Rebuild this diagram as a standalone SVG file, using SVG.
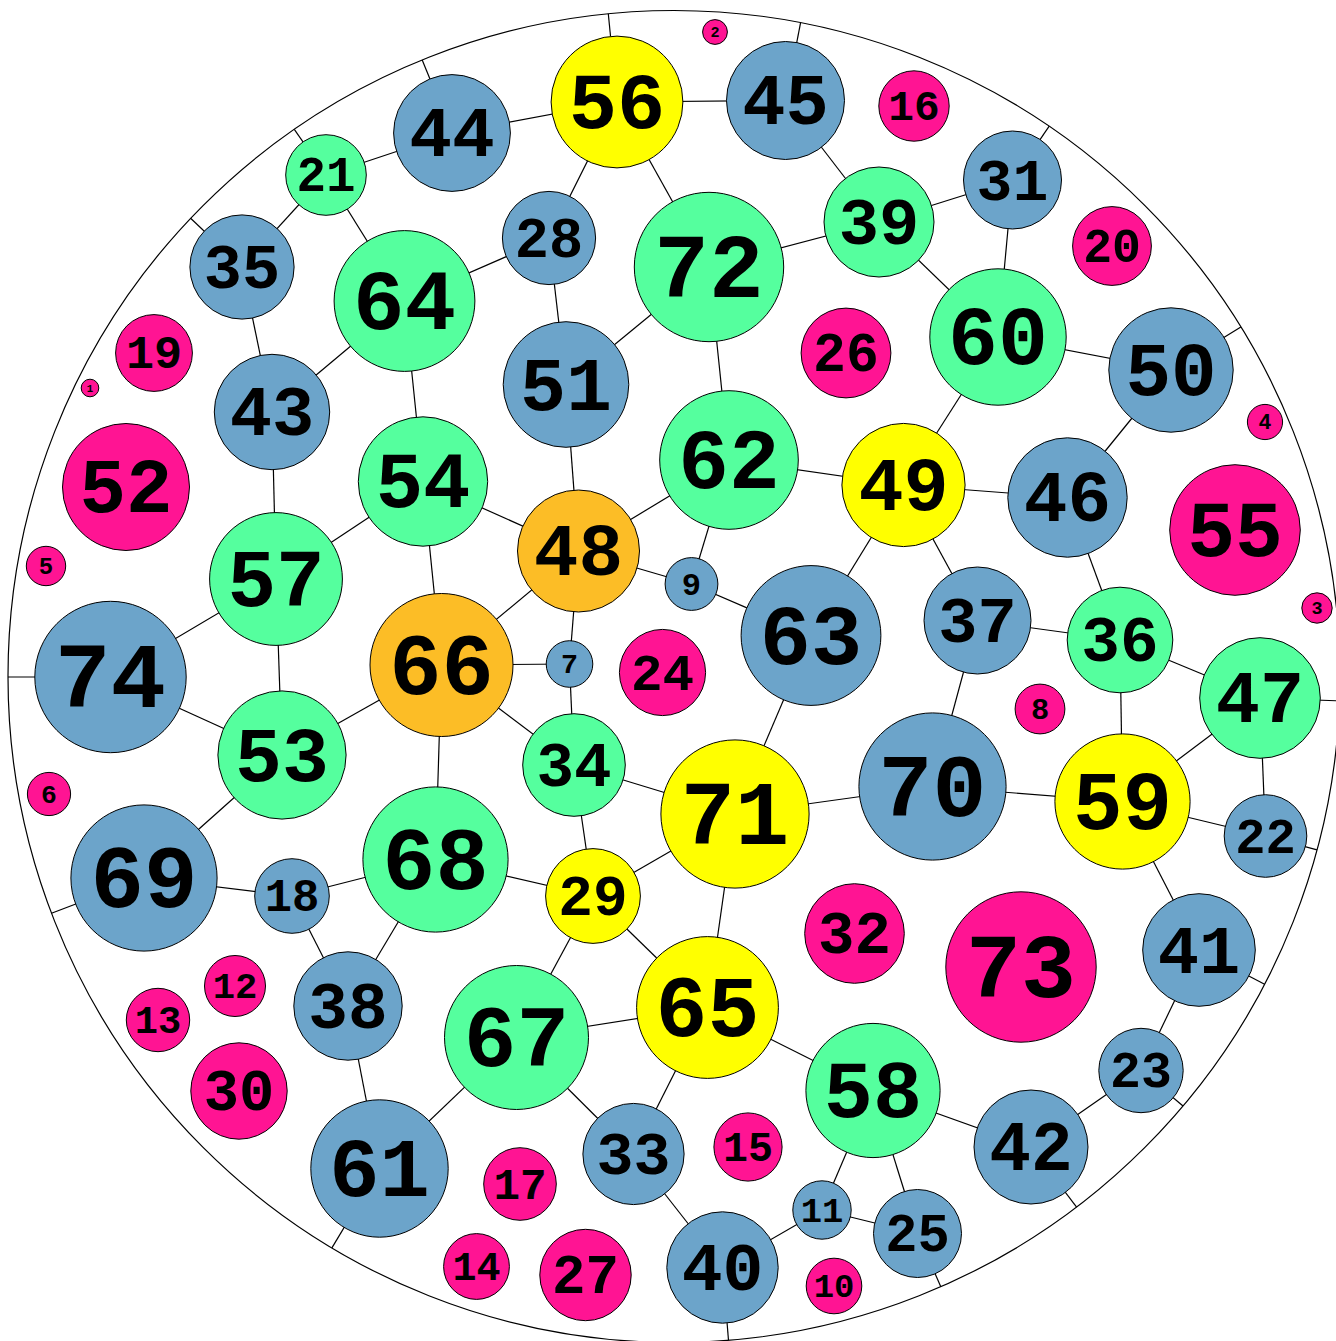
<svg xmlns="http://www.w3.org/2000/svg" width="1336" height="1341" viewBox="0 0 1336 1341">
<style>
.bg{fill:#ffffff}
.rim{fill:none;stroke:#000;stroke-width:1.2}
.e line{stroke:#000;stroke-width:1.2}
circle.n{stroke:#000;stroke-width:1}
.b{fill:#6ca4ca}.g{fill:#55ff9e}.y{fill:#ffff00}.p{fill:#ff1493}.o{fill:#fcbd26}
text{font-family:"Liberation Mono","Courier New",monospace;font-weight:bold;text-anchor:middle;fill:#000}
</style>
<rect class="bg" x="0" y="0" width="1336" height="1341"/>
<circle class="rim" cx="674" cy="676.5" r="666"/>
<g id="connectors" class="e">
<line x1="617" y1="102" x2="785.5" y2="100.5"/>
<line x1="617" y1="102" x2="452" y2="133"/>
<line x1="617" y1="102" x2="549" y2="238"/>
<line x1="617" y1="102" x2="709" y2="267"/>
<line x1="785.5" y1="100.5" x2="879" y2="222"/>
<line x1="452" y1="133" x2="326" y2="175"/>
<line x1="326" y1="175" x2="242" y2="267"/>
<line x1="326" y1="175" x2="404.5" y2="301"/>
<line x1="549" y1="238" x2="404.5" y2="301"/>
<line x1="549" y1="238" x2="566" y2="384.5"/>
<line x1="709" y1="267" x2="566" y2="384.5"/>
<line x1="709" y1="267" x2="879" y2="222"/>
<line x1="709" y1="267" x2="729" y2="460"/>
<line x1="879" y1="222" x2="1012.5" y2="180"/>
<line x1="879" y1="222" x2="998" y2="337"/>
<line x1="1012.5" y1="180" x2="998" y2="337"/>
<line x1="998" y1="337" x2="1171" y2="370"/>
<line x1="998" y1="337" x2="903.5" y2="485"/>
<line x1="1171" y1="370" x2="1067.5" y2="497.5"/>
<line x1="242" y1="267" x2="272" y2="412"/>
<line x1="404.5" y1="301" x2="272" y2="412"/>
<line x1="404.5" y1="301" x2="423" y2="481.5"/>
<line x1="272" y1="412" x2="276" y2="579"/>
<line x1="566" y1="384.5" x2="578.5" y2="551"/>
<line x1="423" y1="481.5" x2="578.5" y2="551"/>
<line x1="423" y1="481.5" x2="276" y2="579"/>
<line x1="423" y1="481.5" x2="441.5" y2="665"/>
<line x1="729" y1="460" x2="578.5" y2="551"/>
<line x1="729" y1="460" x2="903.5" y2="485"/>
<line x1="729" y1="460" x2="691.5" y2="584"/>
<line x1="903.5" y1="485" x2="1067.5" y2="497.5"/>
<line x1="903.5" y1="485" x2="811" y2="635.5"/>
<line x1="903.5" y1="485" x2="977.5" y2="620.5"/>
<line x1="1067.5" y1="497.5" x2="1120" y2="640"/>
<line x1="578.5" y1="551" x2="691.5" y2="584"/>
<line x1="578.5" y1="551" x2="441.5" y2="665"/>
<line x1="578.5" y1="551" x2="569.5" y2="664"/>
<line x1="691.5" y1="584" x2="811" y2="635.5"/>
<line x1="276" y1="579" x2="110.5" y2="677"/>
<line x1="276" y1="579" x2="282" y2="755"/>
<line x1="441.5" y1="665" x2="282" y2="755"/>
<line x1="441.5" y1="665" x2="569.5" y2="664"/>
<line x1="441.5" y1="665" x2="574" y2="765"/>
<line x1="441.5" y1="665" x2="435.5" y2="859.5"/>
<line x1="569.5" y1="664" x2="574" y2="765"/>
<line x1="811" y1="635.5" x2="735" y2="814"/>
<line x1="977.5" y1="620.5" x2="1120" y2="640"/>
<line x1="977.5" y1="620.5" x2="932.5" y2="786.5"/>
<line x1="1120" y1="640" x2="1260" y2="698"/>
<line x1="1120" y1="640" x2="1122.5" y2="801.5"/>
<line x1="1260" y1="698" x2="1122.5" y2="801.5"/>
<line x1="1260" y1="698" x2="1265.5" y2="836"/>
<line x1="574" y1="765" x2="735" y2="814"/>
<line x1="574" y1="765" x2="593" y2="896"/>
<line x1="110.5" y1="677" x2="282" y2="755"/>
<line x1="282" y1="755" x2="144" y2="878"/>
<line x1="735" y1="814" x2="932.5" y2="786.5"/>
<line x1="735" y1="814" x2="593" y2="896"/>
<line x1="735" y1="814" x2="707.5" y2="1007.5"/>
<line x1="932.5" y1="786.5" x2="1122.5" y2="801.5"/>
<line x1="1122.5" y1="801.5" x2="1265.5" y2="836"/>
<line x1="1122.5" y1="801.5" x2="1199" y2="950"/>
<line x1="144" y1="878" x2="292" y2="896"/>
<line x1="292" y1="896" x2="435.5" y2="859.5"/>
<line x1="292" y1="896" x2="348" y2="1006"/>
<line x1="435.5" y1="859.5" x2="593" y2="896"/>
<line x1="435.5" y1="859.5" x2="348" y2="1006"/>
<line x1="593" y1="896" x2="516.5" y2="1037.5"/>
<line x1="593" y1="896" x2="707.5" y2="1007.5"/>
<line x1="1199" y1="950" x2="1141" y2="1070.5"/>
<line x1="1141" y1="1070.5" x2="1031" y2="1147"/>
<line x1="348" y1="1006" x2="379.5" y2="1168.5"/>
<line x1="516.5" y1="1037.5" x2="707.5" y2="1007.5"/>
<line x1="516.5" y1="1037.5" x2="379.5" y2="1168.5"/>
<line x1="516.5" y1="1037.5" x2="633.5" y2="1154"/>
<line x1="707.5" y1="1007.5" x2="633.5" y2="1154"/>
<line x1="707.5" y1="1007.5" x2="873" y2="1090.5"/>
<line x1="873" y1="1090.5" x2="1031" y2="1147"/>
<line x1="873" y1="1090.5" x2="822" y2="1210"/>
<line x1="873" y1="1090.5" x2="917.5" y2="1233.5"/>
<line x1="633.5" y1="1154" x2="722.5" y2="1267.5"/>
<line x1="822" y1="1210" x2="722.5" y2="1267.5"/>
<line x1="822" y1="1210" x2="917.5" y2="1233.5"/>
<line x1="617" y1="102" x2="608.3" y2="13.8"/>
<line x1="785.5" y1="100.5" x2="800.6" y2="22.6"/>
<line x1="452" y1="133" x2="422.2" y2="60"/>
<line x1="326" y1="175" x2="294.3" y2="129.3"/>
<line x1="242" y1="267" x2="190.6" y2="218.3"/>
<line x1="1012.5" y1="180" x2="1049.2" y2="126.2"/>
<line x1="1171" y1="370" x2="1240.9" y2="326.9"/>
<line x1="1260" y1="698" x2="1339.5" y2="700.9"/>
<line x1="1265.5" y1="836" x2="1317" y2="849.9"/>
<line x1="1199" y1="950" x2="1264.6" y2="984.2"/>
<line x1="1141" y1="1070.5" x2="1183" y2="1106"/>
<line x1="1031" y1="1147" x2="1076.6" y2="1207.1"/>
<line x1="917.5" y1="1233.5" x2="940.8" y2="1286.7"/>
<line x1="722.5" y1="1267.5" x2="728.5" y2="1340.3"/>
<line x1="379.5" y1="1168.5" x2="331.9" y2="1247.9"/>
<line x1="144" y1="878" x2="51.5" y2="913.2"/>
<line x1="110.5" y1="677" x2="8" y2="677"/>
</g>
<g id="n1"><circle class="n p" cx="90" cy="388" r="8.8"/><text x="90" y="391.5" font-size="10.7">1</text></g>
<g id="n2"><circle class="n p" cx="715" cy="32" r="12.4"/><text x="715" y="37" font-size="15.1">2</text></g>
<g id="n3"><circle class="n p" cx="1317" cy="608" r="15.2"/><text x="1317" y="614.1" font-size="18.5">3</text></g>
<g id="n4"><circle class="n p" cx="1265" cy="422" r="17.6"/><text x="1265" y="429" font-size="21.5">4</text></g>
<g id="n5"><circle class="n p" cx="46" cy="566" r="19.7"/><text x="46" y="573.9" font-size="24">5</text></g>
<g id="n6"><circle class="n p" cx="49" cy="794" r="21.6"/><text x="49" y="802.6" font-size="26.4">6</text></g>
<g id="n7"><circle class="n b" cx="569.5" cy="664" r="23.3"/><text x="569.5" y="673.3" font-size="28.4">7</text></g>
<g id="n8"><circle class="n p" cx="1040" cy="709" r="24.9"/><text x="1040" y="719" font-size="30.4">8</text></g>
<g id="n9"><circle class="n b" cx="691.5" cy="584" r="26.4"/><text x="691.5" y="594.6" font-size="32.2">9</text></g>
<g id="n10"><circle class="n p" cx="834" cy="1286" r="27.8"/><text x="834" y="1297.1" font-size="33.9">10</text></g>
<g id="n11"><circle class="n b" cx="822" cy="1210" r="29.2"/><text x="822" y="1221.7" font-size="35.6">11</text></g>
<g id="n12"><circle class="n p" cx="235" cy="986" r="30.5"/><text x="235" y="998.2" font-size="37.2">12</text></g>
<g id="n13"><circle class="n p" cx="158" cy="1020" r="31.7"/><text x="158" y="1032.7" font-size="38.7">13</text></g>
<g id="n14"><circle class="n p" cx="476.5" cy="1266.5" r="32.9"/><text x="476.5" y="1279.7" font-size="40.1">14</text></g>
<g id="n15"><circle class="n p" cx="748" cy="1147" r="34.1"/><text x="748" y="1160.6" font-size="41.6">15</text></g>
<g id="n16"><circle class="n p" cx="914" cy="106" r="35.2"/><text x="914" y="120.1" font-size="42.9">16</text></g>
<g id="n17"><circle class="n p" cx="520" cy="1184" r="36.3"/><text x="520" y="1198.5" font-size="44.3">17</text></g>
<g id="n18"><circle class="n b" cx="292" cy="896" r="37.3"/><text x="292" y="910.9" font-size="45.5">18</text></g>
<g id="n19"><circle class="n p" cx="154" cy="353" r="38.4"/><text x="154" y="368.4" font-size="46.8">19</text></g>
<g id="n20"><circle class="n p" cx="1112" cy="246" r="39.4"/><text x="1112" y="261.8" font-size="48.1">20</text></g>
<g id="n21"><circle class="n g" cx="326" cy="175" r="40.3"/><text x="326" y="191.1" font-size="49.2">21</text></g>
<g id="n22"><circle class="n b" cx="1265.5" cy="836" r="41.3"/><text x="1265.5" y="852.5" font-size="50.4">22</text></g>
<g id="n23"><circle class="n b" cx="1141" cy="1070.5" r="42.2"/><text x="1141" y="1087.4" font-size="51.5">23</text></g>
<g id="n24"><circle class="n p" cx="662.5" cy="672.5" r="43.1"/><text x="662.5" y="689.7" font-size="52.6">24</text></g>
<g id="n25"><circle class="n b" cx="917.5" cy="1233.5" r="44"/><text x="917.5" y="1251.1" font-size="53.7">25</text></g>
<g id="n26"><circle class="n p" cx="846" cy="353" r="44.9"/><text x="846" y="371" font-size="54.8">26</text></g>
<g id="n27"><circle class="n p" cx="585.5" cy="1275" r="45.7"/><text x="585.5" y="1293.3" font-size="55.8">27</text></g>
<g id="n28"><circle class="n b" cx="549" cy="238" r="46.6"/><text x="549" y="256.6" font-size="56.9">28</text></g>
<g id="n29"><circle class="n y" cx="593" cy="896" r="47.4"/><text x="593" y="915" font-size="57.8">29</text></g>
<g id="n30"><circle class="n p" cx="239" cy="1091" r="48.2"/><text x="239" y="1110.3" font-size="58.8">30</text></g>
<g id="n31"><circle class="n b" cx="1012.5" cy="180" r="49"/><text x="1012.5" y="199.6" font-size="59.8">31</text></g>
<g id="n32"><circle class="n p" cx="854.5" cy="933.5" r="49.8"/><text x="854.5" y="953.4" font-size="60.8">32</text></g>
<g id="n33"><circle class="n b" cx="633.5" cy="1154" r="50.6"/><text x="633.5" y="1174.2" font-size="61.7">33</text></g>
<g id="n34"><circle class="n g" cx="574" cy="765" r="51.3"/><text x="574" y="785.5" font-size="62.6">34</text></g>
<g id="n35"><circle class="n b" cx="242" cy="267" r="52.1"/><text x="242" y="287.8" font-size="63.6">35</text></g>
<g id="n36"><circle class="n g" cx="1120" cy="640" r="52.8"/><text x="1120" y="661.1" font-size="64.4">36</text></g>
<g id="n37"><circle class="n b" cx="977.5" cy="620.5" r="53.5"/><text x="977.5" y="641.9" font-size="65.3">37</text></g>
<g id="n38"><circle class="n b" cx="348" cy="1006" r="54.2"/><text x="348" y="1027.7" font-size="66.1">38</text></g>
<g id="n39"><circle class="n g" cx="879" cy="222" r="55"/><text x="879" y="244" font-size="67.1">39</text></g>
<g id="n40"><circle class="n b" cx="722.5" cy="1267.5" r="55.7"/><text x="722.5" y="1289.8" font-size="68">40</text></g>
<g id="n41"><circle class="n b" cx="1199" cy="950" r="56.3"/><text x="1199" y="972.5" font-size="68.7">41</text></g>
<g id="n42"><circle class="n b" cx="1031" cy="1147" r="57"/><text x="1031" y="1169.8" font-size="69.5">42</text></g>
<g id="n43"><circle class="n b" cx="272" cy="412" r="57.7"/><text x="272" y="435.1" font-size="70.4">43</text></g>
<g id="n44"><circle class="n b" cx="452" cy="133" r="58.4"/><text x="452" y="156.4" font-size="71.2">44</text></g>
<g id="n45"><circle class="n b" cx="785.5" cy="100.5" r="59"/><text x="785.5" y="124.1" font-size="72">45</text></g>
<g id="n46"><circle class="n b" cx="1067.5" cy="497.5" r="59.7"/><text x="1067.5" y="521.4" font-size="72.8">46</text></g>
<g id="n47"><circle class="n g" cx="1260" cy="698" r="60.3"/><text x="1260" y="722.1" font-size="73.6">47</text></g>
<g id="n48"><circle class="n o" cx="578.5" cy="551" r="61"/><text x="578.5" y="575.4" font-size="74.4">48</text></g>
<g id="n49"><circle class="n y" cx="903.5" cy="485" r="61.6"/><text x="903.5" y="509.6" font-size="75.2">49</text></g>
<g id="n50"><circle class="n b" cx="1171" cy="370" r="62.2"/><text x="1171" y="394.9" font-size="75.9">50</text></g>
<g id="n51"><circle class="n b" cx="566" cy="384.5" r="62.8"/><text x="566" y="409.6" font-size="76.6">51</text></g>
<g id="n52"><circle class="n p" cx="126" cy="487" r="63.5"/><text x="126" y="512.4" font-size="77.5">52</text></g>
<g id="n53"><circle class="n g" cx="282" cy="755" r="64.1"/><text x="282" y="780.6" font-size="78.2">53</text></g>
<g id="n54"><circle class="n g" cx="423" cy="481.5" r="64.7"/><text x="423" y="507.4" font-size="78.9">54</text></g>
<g id="n55"><circle class="n p" cx="1235" cy="530" r="65.3"/><text x="1235" y="556.1" font-size="79.7">55</text></g>
<g id="n56"><circle class="n y" cx="617" cy="102" r="65.9"/><text x="617" y="128.4" font-size="80.4">56</text></g>
<g id="n57"><circle class="n g" cx="276" cy="579" r="66.4"/><text x="276" y="605.6" font-size="81">57</text></g>
<g id="n58"><circle class="n g" cx="873" cy="1090.5" r="67.1"/><text x="873" y="1117.3" font-size="81.9">58</text></g>
<g id="n59"><circle class="n y" cx="1122.5" cy="801.5" r="67.6"/><text x="1122.5" y="828.5" font-size="82.5">59</text></g>
<g id="n60"><circle class="n g" cx="998" cy="337" r="68.2"/><text x="998" y="364.3" font-size="83.2">60</text></g>
<g id="n61"><circle class="n b" cx="379.5" cy="1168.5" r="68.7"/><text x="379.5" y="1196" font-size="83.8">61</text></g>
<g id="n62"><circle class="n g" cx="729" cy="460" r="69.3"/><text x="729" y="487.7" font-size="84.5">62</text></g>
<g id="n63"><circle class="n b" cx="811" cy="635.5" r="69.9"/><text x="811" y="663.5" font-size="85.3">63</text></g>
<g id="n64"><circle class="n g" cx="404.5" cy="301" r="70.4"/><text x="404.5" y="329.2" font-size="85.9">64</text></g>
<g id="n65"><circle class="n y" cx="707.5" cy="1007.5" r="70.9"/><text x="707.5" y="1035.9" font-size="86.5">65</text></g>
<g id="n66"><circle class="n o" cx="441.5" cy="665" r="71.5"/><text x="441.5" y="693.6" font-size="87.2">66</text></g>
<g id="n67"><circle class="n g" cx="516.5" cy="1037.5" r="72"/><text x="516.5" y="1066.3" font-size="87.8">67</text></g>
<g id="n68"><circle class="n g" cx="435.5" cy="859.5" r="72.6"/><text x="435.5" y="888.5" font-size="88.6">68</text></g>
<g id="n69"><circle class="n b" cx="144" cy="878" r="73.1"/><text x="144" y="907.2" font-size="89.2">69</text></g>
<g id="n70"><circle class="n b" cx="932.5" cy="786.5" r="73.6"/><text x="932.5" y="815.9" font-size="89.8">70</text></g>
<g id="n71"><circle class="n y" cx="735" cy="814" r="74.1"/><text x="735" y="843.6" font-size="90.4">71</text></g>
<g id="n72"><circle class="n g" cx="709" cy="267" r="74.7"/><text x="709" y="296.9" font-size="91.1">72</text></g>
<g id="n73"><circle class="n p" cx="1021" cy="967" r="75.2"/><text x="1021" y="997.1" font-size="91.7">73</text></g>
<g id="n74"><circle class="n b" cx="110.5" cy="677" r="75.7"/><text x="110.5" y="707.3" font-size="92.4">74</text></g>
</svg>
